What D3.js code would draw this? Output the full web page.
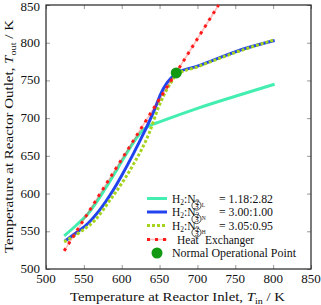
<!DOCTYPE html>
<html lang="en">
<head>
<meta charset="UTF-8">
<title>Reactor outlet vs inlet temperature</title>
<script src="https://d3js.org/d3.v7.min.js"></script>
<style>
    body { margin: 0; background: #fff; }
    text { font-family: "Liberation Serif", "DejaVu Serif", serif; fill: #111; }
</style>
</head>
<body>
<svg id="chart" width="321" height="305"></svg>
<script>
    // (K)
    const tinLow = [524, 540, 556, 578, 595, 615, 628, 637, 650, 700, 750, 802];
    const toutLow = [544, 558, 574, 606, 634, 667, 684, 690, 695, 713, 729, 745];

    const tinNom = [525, 540, 556, 570, 589, 600, 615, 630, 644, 651, 660, 672, 700, 721, 765, 802];
    const toutNom = [537, 548, 561, 577, 605, 624, 652, 682, 713, 731, 747, 759, 769, 777, 793, 803];

    const tinHigh = [524, 545, 565, 585, 595, 615, 637, 648, 657, 665, 672, 700, 750, 802];
    const toutHigh = [536, 549, 565, 592, 606, 638, 682, 713, 733, 747, 757, 768, 787, 804];

    const tinHx = [524, 728];
    const toutHx = [524, 850];

    const opPoint = [672, 760];

    const tickValues = [500, 550, 600, 650, 700, 750, 800, 850];

    const svg = d3.select("#chart");
    const mL = 46, mR = 311, mT = 5, mB = 269;

    const x = d3.scaleLinear().domain([500, 850]).range([mL, mR]);
    const y = d3.scaleLinear().domain([500, 850]).range([mB, mT]);

    // ticks pointing inward on all four sides
    const tickColor = "#999";
    const axes = [
        { axis: d3.axisBottom(x), t: `translate(0,${mB})` },
        { axis: d3.axisTop(x), t: `translate(0,${mT})` },
        { axis: d3.axisLeft(y), t: `translate(${mL},0)` },
        { axis: d3.axisRight(y), t: `translate(${mR},0)` }
    ];
    axes.forEach(a => {
        const g = svg.append("g").attr("transform", a.t)
            .call(a.axis.tickValues(tickValues).tickSizeInner(-4).tickSizeOuter(0).tickFormat(""));
        g.select(".domain").remove();
        g.selectAll(".tick line").attr("stroke", tickColor);
    });

    // tick labels
    svg.append("g").selectAll("text").data(tickValues).enter().append("text")
        .attr("x", d => x(d)).attr("y", 283)
        .attr("text-anchor", "middle").attr("font-size", 13)
        .text(d => d);
    svg.append("g").selectAll("text").data(tickValues).enter().append("text")
        .attr("x", 40).attr("y", d => Math.max(y(d) + 4, 11))
        .attr("text-anchor", "end").attr("font-size", 13)
        .text(d => d);

    // frame
    svg.append("rect").attr("x", mL).attr("y", mT)
        .attr("width", mR - mL).attr("height", mB - mT)
        .attr("fill", "none").attr("stroke", "#222").attr("stroke-width", 1.2);

    const line = (xs, ys, curve) => d3.line()
        .x(i => x(xs[i])).y(i => y(ys[i]))
        .curve(curve)(d3.range(xs.length));

    const teal = "#44eeb0", blue = "#2244ee", ygreen = "#a6d41e", red = "#ff1a1a";

    svg.append("path").attr("d", line(tinLow, toutLow, d3.curveMonotoneX))
        .attr("fill", "none").attr("stroke", teal).attr("stroke-width", 3);
    svg.append("path").attr("d", line(tinNom, toutNom, d3.curveMonotoneX))
        .attr("fill", "none").attr("stroke", blue).attr("stroke-width", 3);
    svg.append("path").attr("d", line(tinHigh, toutHigh, d3.curveMonotoneX))
        .attr("fill", "none").attr("stroke", ygreen).attr("stroke-width", 3)
        .attr("stroke-dasharray", "3,2");
    svg.append("path").attr("d", line(tinHx, toutHx, d3.curveLinear))
        .attr("fill", "none").attr("stroke", red).attr("stroke-width", 1.5).attr("opacity", 0.3);
    svg.append("path").attr("d", line(tinHx, toutHx, d3.curveLinear))
        .attr("fill", "none").attr("stroke", red).attr("stroke-width", 3)
        .attr("stroke-dasharray", "3,5");

    svg.append("circle").attr("cx", x(opPoint[0])).attr("cy", y(opPoint[1]))
        .attr("r", 5.5).attr("fill", "#119911");

    // legend
    const lx0 = 147, lx1 = 167, tx = 172;
    const rows = [198.5, 212, 225.5, 239.5, 253];
    const ratios = ["= 1.18:2.82", "= 3.00:1.00", "= 3.05:0.95"];
    const marks = ["L", "N", "H"];
    const styles = [
        { c: teal, dash: null }, { c: blue, dash: null }, { c: ygreen, dash: "3,2" }
    ];
    const fs = 11.5;

    rows.slice(0, 3).forEach((ry, i) => {
        svg.append("line").attr("x1", lx0).attr("x2", lx1).attr("y1", ry).attr("y2", ry)
            .attr("stroke", styles[i].c).attr("stroke-width", 3)
            .attr("stroke-dasharray", styles[i].dash);
        const t = svg.append("text").attr("x", tx).attr("y", ry + 4).attr("font-size", fs);
        t.append("tspan").text("H");
        t.append("tspan").attr("font-size", 7.5).attr("dy", 2).text("2");
        t.append("tspan").attr("dy", -2).text(":N");
        t.append("tspan").attr("font-size", 7.5).attr("dy", 2).text("2");
        // broken circled-3 marker from the original rendering
        svg.append("circle").attr("cx", 196.5).attr("cy", ry + 7).attr("r", 4.6)
            .attr("fill", "none").attr("stroke", "#222").attr("stroke-width", 0.8);
        svg.append("text").attr("x", 196.5).attr("y", ry + 10.2).attr("text-anchor", "middle")
            .attr("font-size", 8.5).text("3");
        svg.append("text").attr("x", 201.8).attr("y", ry + 8)
            .attr("font-size", 5.5).text(marks[i]);
        svg.append("text").attr("x", 219).attr("y", ry + 4).attr("font-size", fs)
            .attr("textLength", 54).attr("lengthAdjust", "spacingAndGlyphs").text(ratios[i]);
    });

    svg.append("line").attr("x1", lx0).attr("x2", lx1).attr("y1", rows[3]).attr("y2", rows[3])
        .attr("stroke", red).attr("stroke-width", 1.5).attr("opacity", 0.3);
    svg.append("line").attr("x1", lx0).attr("x2", lx1).attr("y1", rows[3]).attr("y2", rows[3])
        .attr("stroke", red).attr("stroke-width", 3).attr("stroke-dasharray", "3,5");
    svg.append("text").attr("x", 177).attr("y", rows[3] + 4).attr("font-size", fs).text("Heat");
    svg.append("text").attr("x", 205).attr("y", rows[3] + 4).attr("font-size", fs).text("Exchanger");

    svg.append("circle").attr("cx", 157).attr("cy", rows[4]).attr("r", 5.5).attr("fill", "#119911");
    svg.append("text").attr("x", tx).attr("y", rows[4] + 4).attr("font-size", fs)
        .attr("textLength", 124).attr("lengthAdjust", "spacingAndGlyphs")
        .text("Normal Operational Point");

    // axis titles, stretched to the span they take in the reference
    const xl = svg.append("text").attr("x", 70).attr("y", 301)
        .attr("font-size", 12.5)
        .attr("textLength", 215).attr("lengthAdjust", "spacingAndGlyphs");
    xl.append("tspan").text("Temperature at Reactor Inlet, ");
    xl.append("tspan").attr("font-style", "italic").text("T");
    xl.append("tspan").attr("font-size", 8.5).attr("dy", 2.5).text("in");
    xl.append("tspan").attr("dy", -2.5).text(" / K");

    const yl = svg.append("text")
        .attr("transform", `translate(13,253) rotate(-90)`)
        .attr("font-size", 12.5)
        .attr("textLength", 233).attr("lengthAdjust", "spacingAndGlyphs");
    yl.append("tspan").text("Temperature at Reactor Outlet, ");
    yl.append("tspan").attr("font-style", "italic").text("T");
    yl.append("tspan").attr("font-size", 8.5).attr("dy", 2.5).text("out");
    yl.append("tspan").attr("dy", -2.5).text(" / K");
</script>
</body>
</html>
